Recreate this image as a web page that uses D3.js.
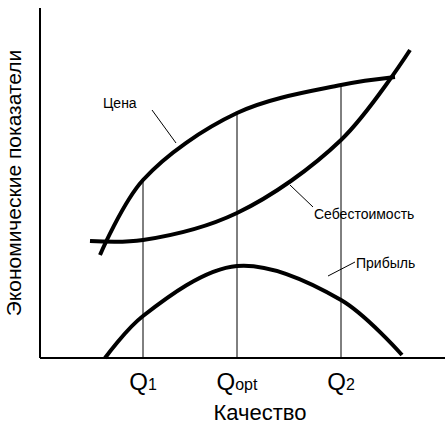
<!DOCTYPE html>
<html><head><meta charset="utf-8">
<script src="https://d3js.org/d3.v7.min.js"></script>
<style>body{margin:0;background:#fff}</style></head>
<body><svg id="c" width="446" height="424"></svg>
<script>
// Quality (x) and economic indicator (y) values
const priceX = [60, 103, 197, 301, 355];
const priceY = [103, 178, 245, 273, 281];
const costX = [50, 103, 197, 301, 370];
const costY = [117, 118, 145, 218, 308];
const profitX = [65, 103, 197, 301, 362];
const profitY = [0, 42, 92, 58, 3];
const qTicks = [103, 197, 301];
const qLabels = [["Q","1"],["Q","opt"],["Q","2"]];
const qTop = [178, 245, 273];

const svg = d3.select("#c");
const x = d3.scaleLinear().domain([0, 405]).range([40, 445]);
const y = d3.scaleLinear().domain([0, 350]).range([358, 8]);

svg.append("line").attr("x1",x(0)).attr("x2",x(0)).attr("y1",y(0)).attr("y2",y(350)).attr("stroke","#000").attr("stroke-width",2);
svg.append("line").attr("x1",x(0)).attr("x2",x(405)).attr("y1",y(0)).attr("y2",y(0)).attr("stroke","#000").attr("stroke-width",2);

qTicks.forEach((q,i)=>{
  svg.append("line").attr("x1",x(q)).attr("x2",x(q)).attr("y1",y(0)).attr("y2",y(qTop[i])).attr("stroke","#000").attr("stroke-width",1);
  const t = svg.append("text").attr("x",x(q)).attr("y",390).attr("text-anchor","middle")
    .attr("font-family","Liberation Sans, Arial").attr("font-size",24);
  t.append("tspan").text(qLabels[i][0]);
  t.append("tspan").attr("font-size",16).text(qLabels[i][1]);
});

const line = d3.line().curve(d3.curveCatmullRom.alpha(0.5));
function draw(xs, ys){
  svg.append("path").attr("d", line(xs.map((v,i)=>[x(v), y(ys[i])])))
    .attr("fill","none").attr("stroke","#000").attr("stroke-width",4);
}
draw(priceX, priceY); draw(costX, costY); draw(profitX, profitY);

const lab = (tx,ty,txt,lx1,ly1,lx2,ly2)=>{
  svg.append("text").attr("x",tx).attr("y",ty).attr("font-family","Liberation Sans, Arial").attr("font-size",14).text(txt);
  svg.append("line").attr("x1",lx1).attr("y1",ly1).attr("x2",lx2).attr("y2",ly2).attr("stroke","#000").attr("stroke-width",1);
};
lab(103,108,"Цена",152,110,176,143);
lab(314,219,"Себестоимость",290,185,313,207);
lab(356,268,"Прибыль",355,262,328,276);

svg.append("text").attr("x",260).attr("y",420).attr("text-anchor","middle")
  .attr("font-family","Liberation Sans, Arial").attr("font-size",22).text("Качество");
svg.append("text").attr("transform","translate(21,183) rotate(-90)").attr("text-anchor","middle")
  .attr("font-family","Liberation Sans, Arial").attr("font-size",21).text("Экономические показатели");
</script></body></html>
